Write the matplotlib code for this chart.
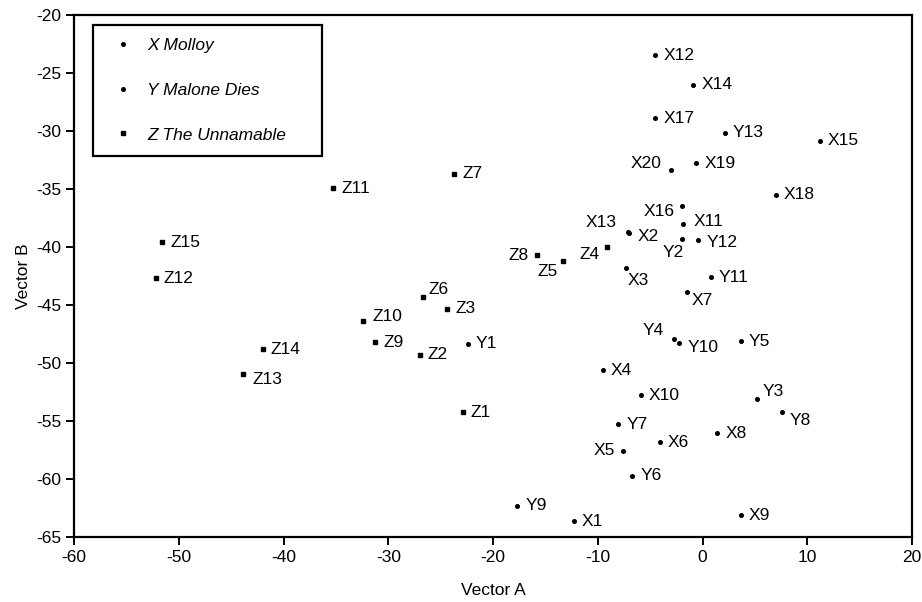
#!/usr/bin/env python3
"""Vector A / Vector B scatter of the three novels, with point labels."""

import matplotlib
matplotlib.use("Agg")
import matplotlib.pyplot as plt
from matplotlib.lines import Line2D

# ---------------------------------------------------------------------------
# data
# ---------------------------------------------------------------------------

x_names = ["X1", "X2", "X3", "X4", "X5", "X6", "X7", "X8", "X9", "X10",
           "X11", "X12", "X13", "X14", "X15", "X16", "X17", "X18", "X19", "X20"]
x_a = [-12.3, -7.05, -7.3, -9.5, -7.6, -4.1, -1.45, 1.4, 3.65, -5.9,
       -1.85, -4.5, -7.1, -0.9, 11.2, -2.0, -4.5, 7.0, -0.6, -3.05]
x_b = [-63.6, -38.8, -41.85, -50.6, -57.55, -56.8, -43.9, -56.05, -63.1, -52.75,
       -38.0, -23.5, -38.7, -26.05, -30.85, -36.45, -28.9, -35.5, -32.8, -33.4]

y_names = ["Y1", "Y2", "Y3", "Y4", "Y5", "Y6", "Y7", "Y8", "Y9", "Y10",
           "Y11", "Y12", "Y13"]
y_a = [-22.4, -2.0, 5.2, -2.7, 3.65, -6.7, -8.05, 7.55, -17.7, -2.2,
       0.8, -0.4, 2.15]
y_b = [-48.35, -39.3, -53.1, -47.95, -48.1, -59.7, -55.25, -54.25, -62.3, -48.25,
       -42.6, -39.4, -30.15]

z_names = ["Z1", "Z2", "Z3", "Z4", "Z5", "Z6", "Z7", "Z8", "Z9", "Z10",
           "Z11", "Z12", "Z13", "Z14", "Z15"]
z_a = [-22.9, -27.0, -24.35, -9.15, -13.3, -26.7, -23.7, -15.85, -31.25, -32.45,
       -35.25, -52.2, -43.9, -42.0, -51.6]
z_b = [-54.25, -49.3, -45.3, -40.0, -41.2, -44.3, -33.7, -40.7, -48.2, -46.35,
       -34.95, -42.7, -50.95, -48.8, -39.6]

series_labels = ["X Molloy", "Y Malone Dies", "Z The Unnamable"]

# label offsets in pixels (dx, dy); default sits just right of the dot
DEFAULT_OFF = (8, 0)
label_off = {
    "X20": (-9, 7), "X16": (-7, -6), "X13": (-12, 9), "X2": (9, -3),
    "X11": (10, 2), "Y2": (2, -14), "Y12": (8, -3), "Z8": (-8, 0),
    "Z5": (-5, -11), "Z4": (-7, -8), "X3": (2, -12), "Z6": (6, 7),
    "X7": (4, -8), "Y4": (-10, 9), "Y10": (8, -5), "Y3": (6, 8),
    "Y8": (8, -8), "X5": (-8, 0), "Z10": (10, 4), "Z13": (10, -5),
}
right_aligned = {"Y2"}

# ---------------------------------------------------------------------------
# plot
# ---------------------------------------------------------------------------

plt.rcParams["font.family"] = ["Liberation Sans", "DejaVu Sans"]
plt.rcParams["axes.unicode_minus"] = False
FS = 12.5

fig = plt.figure(figsize=(9.22, 6.02), dpi=100)
ax = fig.add_axes([0.0803, 0.1075, 0.9089, 0.8681])

for names, xs, ys, mk in [(x_names, x_a, x_b, "o"),
                          (y_names, y_a, y_b, "o"),
                          (z_names, z_a, z_b, "s")]:
    ax.plot(xs, ys, ls="none", marker=mk, ms=2.6, color="black", mec="black")
    for n, xv, yv in zip(names, xs, ys):
        dx, dy = label_off.get(n, DEFAULT_OFF)
        ha = "right" if (dx < 0 or n in right_aligned) else "left"
        ax.annotate(n, (xv, yv), xytext=(dx, dy), textcoords="offset pixels",
                    ha=ha, va="center", fontsize=FS)

ax.set_xlim(-60, 20)
ax.set_ylim(-65, -20)
ax.set_xticks(range(-60, 21, 10))
ax.set_yticks(range(-65, -19, 5))
ax.set_xlabel("Vector A", fontsize=FS, labelpad=13)
ax.set_ylabel("Vector B", fontsize=FS, labelpad=4)
for s in ax.spines.values():
    s.set_linewidth(1.6)
ax.tick_params(direction="out", length=6, width=1.4, labelsize=FS, pad=3)

handles = [Line2D([], [], ls="none", marker=m, ms=2.6, color="black")
           for m in ("o", "o", "s")]
leg = ax.legend(handles, series_labels, loc="upper left",
                bbox_to_anchor=(92.7 / 922, 1 - 25 / 602, 229 / 922, 0),
                bbox_transform=fig.transFigure, mode="expand",
                borderaxespad=0, prop={"style": "italic", "size": FS},
                labelspacing=1.7, borderpad=0.75, handletextpad=0.4,
                fancybox=False, framealpha=1, edgecolor="black")
leg.get_frame().set_linewidth(1.6)

fig.savefig("out.png", dpi=100)
